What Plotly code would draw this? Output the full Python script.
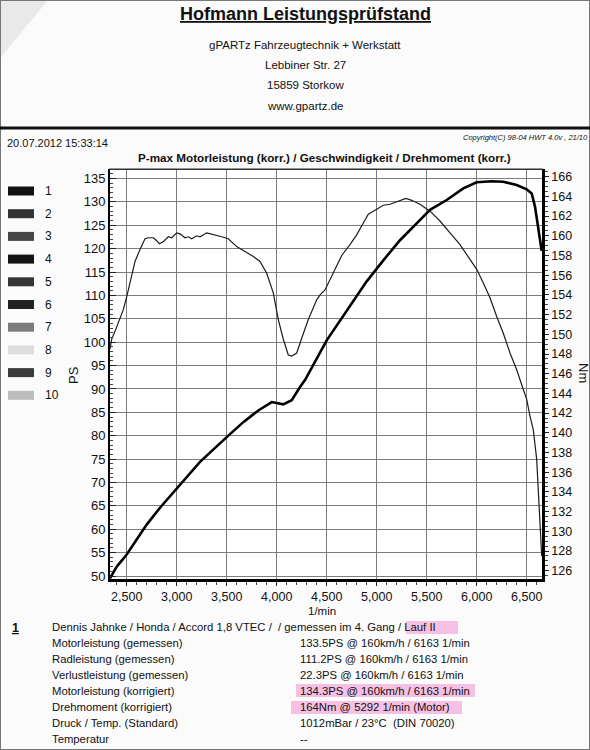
import plotly.graph_objects as go

# ---------------- data ----------------
rpm_power = [2333, 2366, 2400, 2450, 2500, 2600, 2700, 2833, 3000, 3233, 3500, 3666, 3816,
             3950, 4066, 4150, 4233, 4283, 4500, 4833, 4900, 5066, 5233, 5400, 5533, 5700,
             5866, 6000, 6150, 6266, 6400, 6500, 6550, 6583, 6616, 6633, 6650]
power_ps = [49.5, 50.6, 52.0, 53.3, 54.6, 57.8, 61.0, 64.6, 68.7, 74.4, 79.7, 82.9, 85.4,
            87.2, 86.7, 87.6, 90.4, 91.9, 100.4, 110.8, 113.0, 117.5, 121.8, 125.4, 128.3, 130.4,
            132.9, 134.2, 134.4, 134.3, 133.6, 132.7, 131.8, 129.0, 124.0, 122.0, 119.5]

rpm_torque = [2333, 2350, 2383, 2416, 2466, 2500, 2550, 2583, 2633, 2683, 2716, 2766, 2800,
              2826, 2866, 2916, 2950, 3000, 3033, 3083, 3116, 3150, 3200, 3233, 3300, 3383,
              3450, 3516, 3600, 3683, 3766, 3833, 3900, 3966, 4016, 4066, 4116, 4150, 4200,
              4250, 4316, 4400, 4433, 4483, 4566, 4650, 4733, 4800, 4866, 4916, 4983, 5066,
              5133, 5233, 5292, 5350, 5433, 5533, 5633, 5733, 5833, 5933, 6000, 6066, 6133,
              6200, 6266, 6333, 6400, 6466, 6500, 6533, 6566, 6600, 6616, 6633, 6643, 6650]
torque_nm = [148.5, 149.5, 150.3, 151.1, 152.5, 153.8, 155.9, 157.4, 158.6, 159.7, 159.8, 159.8, 159.5,
             159.2, 159.4, 159.9, 159.8, 160.3, 160.2, 159.8, 159.9, 159.7, 160.0, 159.9, 160.3, 160.1,
             159.9, 159.7, 158.9, 158.4, 157.9, 157.4, 156.2, 154.2, 151.5, 149.5, 147.9, 147.8, 148.1,
             149.6, 151.5, 153.5, 154.0, 154.5, 156.2, 158.0, 159.1, 160.1, 161.3, 162.2, 162.6, 163.1,
             163.2, 163.6, 163.8, 163.6, 163.2, 162.5, 161.5, 160.3, 159.1, 157.6, 156.6, 155.2, 153.7,
             151.8, 150.1, 148.1, 146.4, 144.4, 143.4, 141.7, 140.3, 137.3, 133.9, 131.2, 128.8, 127.5]

x_ticks = [2500, 3000, 3500, 4000, 4500, 5000, 5500, 6000, 6500]
ps_ticks = list(range(50, 136, 5))
nm_ticks = list(range(126, 167, 2))

legend_numbers = ["1", "2", "3", "4", "5", "6", "7", "8", "9", "10"]
legend_colors = ["#111111", "#333333", "#474747", "#151515", "#353535", "#222222",
                 "#7c7c7c", "#dedede", "#3c3c3c", "#bdbdbd"]

info_labels = ["Motorleistung (gemessen)", "Radleistung (gemessen)", "Verlustleistung (gemessen)",
               "Motorleistung (korrigiert)", "Drehmoment (korrigiert)", "Druck / Temp. (Standard)",
               "Temperatur"]
info_values = ["133.5PS @ 160km/h / 6163 1/min", "111.2PS @ 160km/h / 6163 1/min",
               "22.3PS @ 160km/h / 6163 1/min", "134.3PS @ 160km/h / 6163 1/min",
               "164Nm @ 5292 1/min (Motor)", "1012mBar / 23°C  (DIN 70020)", "--"]

# ---------------- layout helpers ----------------
W, H = 590, 750
FONT = "Liberation Sans, Arial, sans-serif"


def px(x):
    return x / W


def py(y):
    return 1 - y / H


fig = go.Figure()
fig.add_trace(go.Scatter(x=rpm_torque, y=torque_nm, mode="lines", yaxis="y2",
                         line=dict(color="#1c1c1c", width=1.2), showlegend=False))
fig.add_trace(go.Scatter(x=rpm_power, y=power_ps, mode="lines", yaxis="y",
                         line=dict(color="#000000", width=2.6), showlegend=False))

grid = "#7d7d7d"
fig.update_layout(
    width=W, height=H, margin=dict(l=0, r=0, t=0, b=0),
    paper_bgcolor="#fbfbfb", plot_bgcolor="#ffffff",
    font=dict(family=FONT, color="#111"),
    xaxis=dict(domain=[px(110), px(542)], range=[2333, 6653], tickvals=x_ticks,
               tickformat=",", ticks="outside", ticklen=4, tickcolor="#222",
               showline=True, linewidth=3, linecolor="#000",
               showgrid=True, gridcolor=grid, gridwidth=1.1,
               tickfont=dict(size=12.5), automargin=False, zeroline=False,
               minor=dict(ticks="outside", ticklen=3, dtick=100, tick0=2500,
                          tickcolor="#444", showgrid=False)),
    yaxis=dict(domain=[py(579), py(169.3)], range=[49.36, 136.97], tickvals=ps_ticks,
               ticks="inside", ticklen=6, tickcolor="#222",
               showline=True, linewidth=2, linecolor="#000",
               showgrid=True, gridcolor=grid, gridwidth=1.2,
               tickfont=dict(size=13), automargin=False, zeroline=False,
               minor=dict(ticks="inside", ticklen=3, dtick=1, tick0=50,
                          tickcolor="#444", showgrid=False)),
    yaxis2=dict(overlaying="y", side="right", range=[125.16, 166.75], tickvals=nm_ticks,
                ticks="outside", ticklen=4, tickcolor="#222",
                showline=True, linewidth=2.5, linecolor="#000",
                showgrid=False, tickfont=dict(size=12.5), automargin=False, zeroline=False,
                minor=dict(ticks="outside", ticklen=3, dtick=0.5, tick0=126,
                           tickcolor="#444", showgrid=False)),
)

shapes = []
ann = []

# page frame and scan corner
shapes.append(dict(type="path", xref="paper", yref="paper",
                   path=f"M {px(0)},{py(0)} L {px(48)},{py(0)} L {px(0)},{py(58)} Z",
                   fillcolor="#e9e9e9", line=dict(width=0), layer="below"))
shapes.append(dict(type="rect", xref="paper", yref="paper", x0=0, x1=1, y0=0, y1=1,
                   line=dict(color="#777", width=2), fillcolor="rgba(0,0,0,0)"))
# separator line
shapes.append(dict(type="line", xref="paper", yref="paper", x0=px(0), x1=px(590),
                   y0=py(128), y1=py(128), line=dict(color="#111", width=3)))
# plot top border
shapes.append(dict(type="line", xref="paper", yref="paper", x0=px(109), x1=px(543),
                   y0=py(169.3), y1=py(169.3), line=dict(color="#333", width=1.5)))

# pink highlights
for (x0, x1, y0, y1) in [(406, 458, 621, 634), (296, 475, 684, 697), (291, 462, 701, 714)]:
    shapes.append(dict(type="rect", xref="paper", yref="paper", x0=px(x0), x1=px(x1),
                       y0=py(y1), y1=py(y0), fillcolor="rgba(240,120,200,0.45)",
                       line=dict(width=0), layer="below"))


def text(x, y, s, size=11.5, xanchor="left", bold=False, italic=False, angle=0, color="#111"):
    if bold:
        s = f"<b>{s}</b>"
    if italic:
        s = f"<i>{s}</i>"
    ann.append(dict(x=px(x), y=py(y), xref="paper", yref="paper", text=s, showarrow=False,
                    xanchor=xanchor, yanchor="middle", textangle=angle,
                    font=dict(size=size, family=FONT, color=color)))


# header
text(305, 14, "<u>Hofmann Leistungsprüfstand</u>", size=18, xanchor="center", bold=True)
text(305, 45, "gPARTz Fahrzeugtechnik + Werkstatt", size=11.5, xanchor="center")
text(305, 65, "Lebbiner Str. 27", size=11.5, xanchor="center")
text(305, 85, "15859 Storkow", size=11.5, xanchor="center")
text(305, 106, "www.gpartz.de", size=11.5, xanchor="center")
text(5, 143, "20.07.2012 15:33:14", size=11)
text(590, 138, "Copyright(C) 98-04 HWT 4.0v , 21/10", size=7.5, xanchor="right", italic=True)
text(324, 157, "P-max Motorleistung (korr.) / Geschwindigkeit / Drehmoment (korr.)",
     size=11.7, xanchor="center", bold=True)

# axis titles
text(73, 375, "PS", size=13, xanchor="center", angle=-90)
text(584, 373, "Nm", size=13, xanchor="center", angle=90)
text(322, 611, "1/min", size=11.5, xanchor="center")

# legend swatches
for i, (num, col) in enumerate(zip(legend_numbers, legend_colors)):
    yc = 191 + i * 22.7
    shapes.append(dict(type="rect", xref="paper", yref="paper", x0=px(8), x1=px(34),
                       y0=py(yc + 4.5), y1=py(yc - 4.5), fillcolor=col, line=dict(width=0)))
    text(43, yc, num, size=12)

# result block
text(10, 628, "<u>1</u>", size=12.5, bold=True)
text(50, 627, "Dennis Jahnke / Honda / Accord 1,8 VTEC /  / gemessen im 4. Gang / Lauf II", size=11.3)
for i, (lab, val) in enumerate(zip(info_labels, info_values)):
    yc = 643 + i * 16
    text(50, yc, lab, size=11.3)
    text(298, yc, val, size=11.3)

fig.update_layout(shapes=shapes, annotations=ann)
fig.write_html("out.html")
